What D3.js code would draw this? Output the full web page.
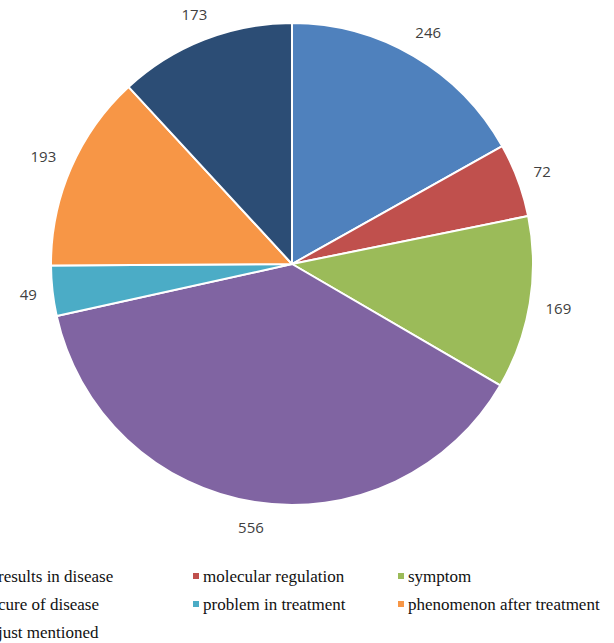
<!DOCTYPE html>
<html>
<head>
<meta charset="utf-8">
<script src="https://cdn.jsdelivr.net/npm/d3@7"></script>
<style>
  body { margin: 0; background: #fff; }
</style>
</head>
<body>
<div id="chart"></div>
<script>
const categories = ["results in disease", "molecular regulation", "symptom", "cure of disease",
  "problem in treatment", "phenomenon after treatment", "just mentioned"]
const counts = [246, 72, 169, 556, 49, 193, 173]
const colors = ["#4F81BD", "#C0504D", "#9BBB59", "#8064A2", "#4BACC6", "#F79646", "#2C4D75"]

const width = 614
const height = 643
const cx = 292, cy = 264
const radius = 241
const labelGap = 15

const svg = d3.select("#chart").append("svg")
    .attr("width", width)
    .attr("height", height)

const data = categories.map((c, i) => ({ name: c, value: counts[i] }))

const pie = d3.pie()
    .sort(null)
    .value(d => d.value)

const arc = d3.arc()
    .innerRadius(0)
    .outerRadius(radius)

const color = d3.scaleOrdinal()
    .domain(categories)
    .range(colors)

const g = svg.append("g")
    .attr("transform", `translate(${cx},${cy})`)

const arcs = pie(data)

g.selectAll("path")
    .data(arcs)
    .join("path")
    .attr("d", arc)
    .attr("fill", d => color(d.data.name))
    .attr("stroke", "#fff")
    .attr("stroke-width", 2)
    .attr("stroke-linejoin", "round")

// labels: box edge sits a fixed gap outside the pie, like Excel "outside end"
g.selectAll("text.lbl")
    .data(arcs)
    .join("text")
    .attr("class", "lbl")
    .attr("text-anchor", "middle")
    .attr("dominant-baseline", "central")
    .style("font-family", "'Open Sans', 'Liberation Sans', sans-serif")
    .style("font-size", "15px")
    .attr("fill", "#404040")
    .text(d => d.data.value)
    .attr("transform", function(d) {
        const a = (d.startAngle + d.endAngle) / 2
        const s = Math.sin(a), c = Math.cos(a)
        const b = this.getBBox()
        const ext = Math.abs(s) * b.width / 2 + Math.abs(c) * 8
        const r = radius + labelGap + ext
        return `translate(${s * r},${-c * r})`
    })

// legend, 3 columns, first column partly cut off on the left
const legend = svg.append("g")
    .style("font-family", "'Liberation Serif', 'DejaVu Serif', serif")
    .style("font-size", "17px")

const colX = d3.scalePoint().domain([0, 1, 2]).range([-12, 398])
const rowY = d3.scalePoint().domain([0, 1, 2]).range([576, 632])

const item = legend.selectAll("g")
    .data(categories)
    .join("g")
    .attr("transform", (d, i) => `translate(${colX(i % 3)},${rowY(Math.floor(i / 3))})`)

item.append("rect")
    .attr("x", 0)
    .attr("y", -3)
    .attr("width", 6)
    .attr("height", 6)
    .attr("fill", d => color(d))

item.append("text")
    .attr("x", 10)
    .attr("y", 5.5)
    .attr("fill", "#111")
    .text(d => d)
</script>
</body>
</html>
